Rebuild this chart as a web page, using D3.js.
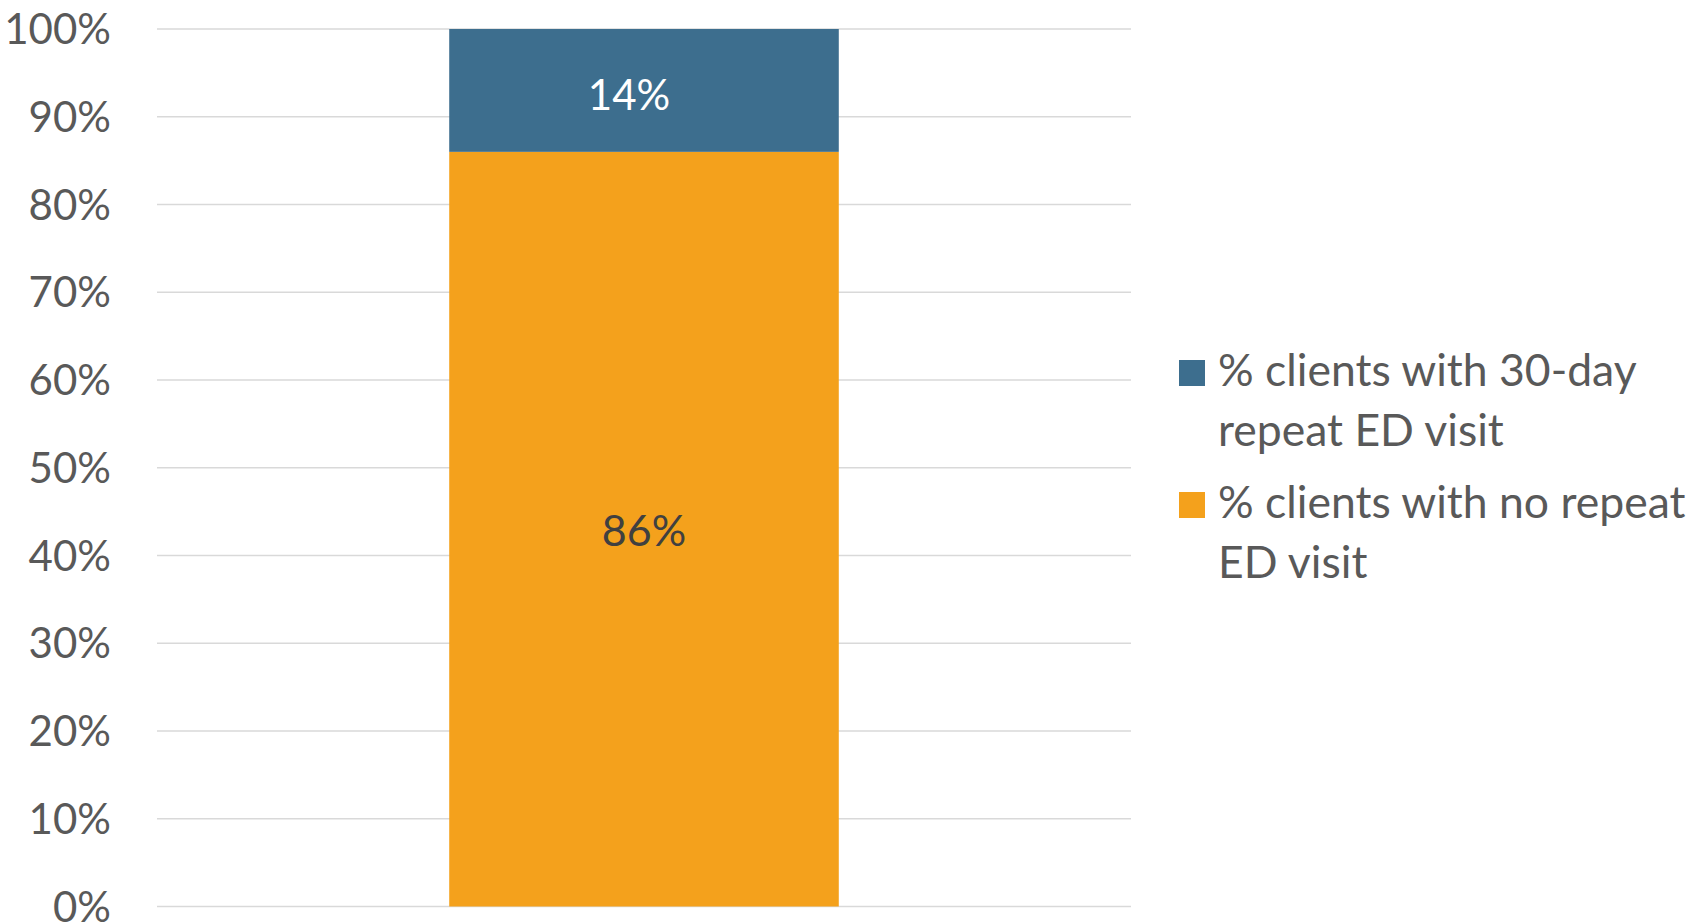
<!DOCTYPE html>
<html>
<head>
<meta charset="utf-8">
<script src="https://cdn.jsdelivr.net/npm/d3@7"></script>
<style>
  html, body { margin: 0; padding: 0; background: #fff; }
  svg { display: block; }
  text { font-family: Lato, "Open Sans", sans-serif; }
</style>
</head>
<body>
<svg id="chart" width="1699" height="923"></svg>
<script>
const categories = ["Clients"];
const seriesNames = ["% clients with no repeat ED visit", "% clients with 30-day repeat ED visit"];
const noRepeat = [86];
const repeat30 = [14];
const yTicks = [0, 10, 20, 30, 40, 50, 60, 70, 80, 90, 100];
const legendLines = [
  ["% clients with 30-day", "repeat ED visit"],
  ["% clients with no repeat", "ED visit"]
];
const colors = { repeat: "#3d6e8e", noRepeat: "#f4a11c" };

const svg = d3.select("#chart");
const W = 1699, H = 923;
const plot = { left: 157, right: 1131, top: 29, bottom: 906.5 };

const x = d3.scaleBand().domain(categories).range([plot.left, plot.right]).paddingInner(0.4286).paddingOuter(0.4286);
const y = d3.scaleLinear().domain([0, 100]).range([plot.bottom, plot.top]);

// gridlines
svg.append("g").selectAll("line").data(yTicks).join("line")
  .attr("x1", plot.left).attr("x2", plot.right)
  .attr("y1", d => y(d)).attr("y2", d => y(d))
  .attr("stroke", "#d9d9d9").attr("stroke-width", 1.6);

// y axis labels
const yAxis = d3.axisLeft(y).tickValues(yTicks).tickFormat(d => d + "%").tickSize(0).tickPadding(0);
const gy = svg.append("g").attr("transform", `translate(111,0)`).call(yAxis);
gy.select(".domain").remove();
gy.selectAll("text").attr("fill", "#595959").style("font-size", "42px")
  .style("font-family", "Lato, 'Open Sans', sans-serif").attr("dy", "0.35em");

// stacked data
const rows = categories.map((c, i) => ({ cat: c, noRepeat: noRepeat[i], repeat: repeat30[i] }));
const stack = d3.stack().keys(["noRepeat", "repeat"]);
const stacked = stack(rows);

const g = svg.append("g");
stacked.forEach(layer => {
  g.selectAll(null).data(layer).join("rect")
    .attr("x", d => x(d.data.cat))
    .attr("width", x.bandwidth())
    .attr("y", d => y(d[1]))
    .attr("height", d => y(d[0]) - y(d[1]))
    .attr("fill", colors[layer.key]);
});

// data labels
stacked.forEach(layer => {
  g.selectAll(null).data(layer).join("text")
    .attr("x", d => x(d.data.cat) + x.bandwidth() / 2 + (layer.key === "repeat" ? -15 : 0))
    .attr("y", d => y((d[0] + d[1]) / 2) + (layer.key === "repeat" ? 5 : 2))
    .attr("dy", "0.35em")
    .attr("text-anchor", "middle")
    .attr("fill", layer.key === "repeat" ? "#ffffff" : "#404040")
    .style("font-size", layer.key === "repeat" ? "42px" : "43px")
    .text(d => (d[1] - d[0]) + "%");
});

// legend
const legend = svg.append("g");
const legendItems = [
  { key: "repeat", lines: legendLines[0], top: 360 },
  { key: "noRepeat", lines: legendLines[1], top: 492 }
];
legendItems.forEach(item => {
  legend.append("rect").attr("x", 1179).attr("y", item.top).attr("width", 26).attr("height", 26)
    .attr("fill", colors[item.key]);
  item.lines.forEach((ln, i) => {
    legend.append("text").attr("x", 1218).attr("y", item.top + 26 + i * 60)
      .attr("fill", "#595959").style("font-size", "44.5px").text(ln);
  });
});
</script>
</body>
</html>
